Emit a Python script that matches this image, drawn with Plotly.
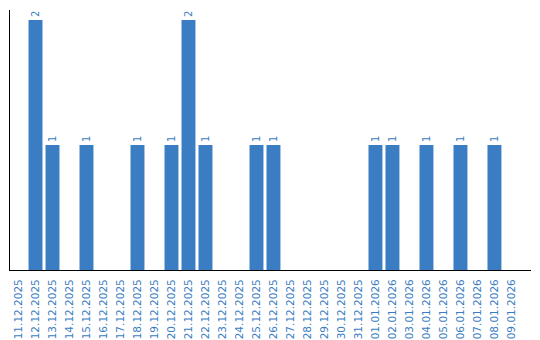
import plotly.graph_objects as go

dates = ["11.12.2025","12.12.2025","13.12.2025","14.12.2025","15.12.2025","16.12.2025",
         "17.12.2025","18.12.2025","19.12.2025","20.12.2025","21.12.2025","22.12.2025",
         "23.12.2025","24.12.2025","25.12.2025","26.12.2025","27.12.2025","28.12.2025",
         "29.12.2025","30.12.2025","31.12.2025","01.01.2026","02.01.2026","03.01.2026",
         "04.01.2026","05.01.2026","06.01.2026","07.01.2026","08.01.2026","09.01.2026"]
counts = [0,2,1,0,1,0,0,1,0,1,2,1,0,0,1,1,0,0,0,0,0,1,1,0,1,0,1,0,1,0]
labels = [str(v) if v else "" for v in counts]

color = "#3A7DC2"
fig = go.Figure(go.Bar(
    x=dates, y=counts, text=labels, textposition="outside", textangle=-90,
    textfont=dict(family="DejaVu Sans", size=10, color=color),
    marker=dict(color=color, line=dict(width=0)), cliponaxis=False,
))
fig.update_layout(
    width=540, height=340, margin=dict(l=10, r=9, t=10, b=70),
    plot_bgcolor="white", paper_bgcolor="white", bargap=0.18,
    showlegend=False,
    xaxis=dict(type="category", range=[-0.5, 30.15], tickangle=-90, showline=True,
               linecolor="black", linewidth=1, showgrid=False, ticks="",
               ticklabelstandoff=4, automargin=False,
               tickfont=dict(family="DejaVu Sans", size=10.5, color=color)),
    yaxis=dict(range=[0, 2.08], showline=True, linecolor="black", linewidth=1,
               showgrid=False, zeroline=False, showticklabels=False, ticks="",
               automargin=False),
)
fig.write_html("out.html")
